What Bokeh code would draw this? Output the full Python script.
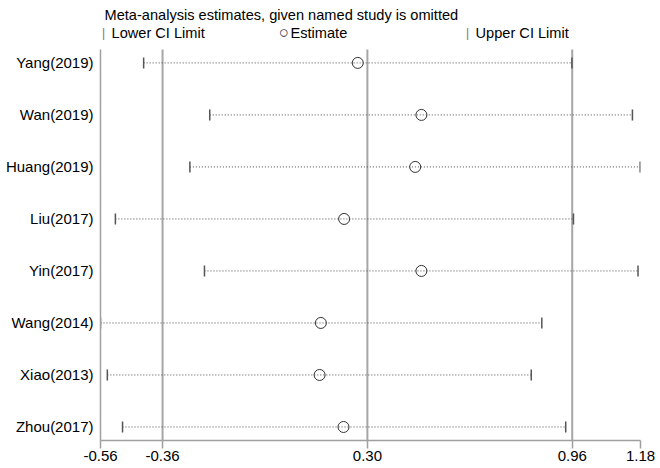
from math import pi
from bokeh.plotting import figure
from bokeh.models import Range1d, FixedTicker, ColumnDataSource, NumeralTickFormatter
from bokeh.core.properties import value
from bokeh.embed import file_html
from bokeh.resources import INLINE

studies = ["Yang(2019)", "Wan(2019)", "Huang(2019)", "Liu(2017)",
           "Yin(2017)", "Wang(2014)", "Xiao(2013)", "Zhou(2017)"]
estimate = [0.269, 0.474, 0.454, 0.225, 0.474, 0.150, 0.146, 0.223]
lower = [-0.421, -0.208, -0.272, -0.512, -0.225, -0.560, -0.538, -0.489]
upper = [0.959, 1.154, 1.179, 0.964, 1.172, 0.862, 0.828, 0.939]
pooled = [-0.36, 0.30, 0.96]          # pooled lower CI, estimate, upper CI
axis_ticks = [-0.56, -0.36, 0.30, 0.96, 1.18]
title_text = "Meta-analysis estimates, given named study is omitted"
legend_texts = ["Lower CI Limit", "Estimate", "Upper CI Limit"]

FONT = "Liberation Sans"
FS = "15px"
FS_HEAD = "14.6px"

n = len(studies)
ypos = list(range(n, 0, -1))
y_lo, y_hi = 0.74, n + 0.26          # extent of the plotting area proper
y_top = 9.2                           # extra room above for title / legend rows
src = ColumnDataSource(dict(y=ypos, est=estimate, lo=lower, hi=upper))

p = figure(width=660, height=468, output_backend="svg", toolbar_location=None,
           x_range=Range1d(axis_ticks[0], axis_ticks[-1]),
           y_range=Range1d(y_lo, y_top),
           min_border_left=100, min_border_right=20,
           min_border_top=0, min_border_bottom=28)
p.outline_line_color = None
p.xgrid.visible = False
p.ygrid.visible = False
p.background_fill_color = "white"
p.border_fill_color = "white"

# x axis
xa = p.xaxis[0]
xa.ticker = FixedTicker(ticks=axis_ticks)
xa.formatter = NumeralTickFormatter(format="0.00")
xa.axis_line_color = "#a0a0a0"
xa.axis_line_width = 1.5
xa.major_tick_line_color = "#a0a0a0"
xa.major_tick_line_width = 1.5
xa.major_tick_out = 8
xa.major_tick_in = 0
xa.minor_tick_line_color = None
xa.major_label_standoff = 2
xa.major_label_text_font = FONT
xa.major_label_text_font_size = FS
xa.major_label_text_color = "black"

# y axis
ya = p.yaxis[0]
ya.ticker = FixedTicker(ticks=ypos)
ya.major_label_overrides = {y: s for y, s in zip(ypos, studies)}
ya.bounds = (y_lo, y_hi)
ya.axis_line_color = "#a0a0a0"
ya.axis_line_width = 1.5
ya.major_tick_line_color = None
ya.minor_tick_line_color = None
ya.major_tick_out = 0
ya.major_tick_in = 0
ya.major_label_standoff = 7
ya.major_label_text_font = FONT
ya.major_label_text_font_size = FS
ya.major_label_text_color = "black"

# pooled reference lines
p.segment(x0=pooled, y0=[y_lo] * 3, x1=pooled, y1=[y_hi] * 3,
          line_color="#a6a6a6", line_width=2)

# CI dotted lines
p.segment(x0="lo", y0="y", x1="hi", y1="y", source=src,
          line_color="#4d4d4d", line_width=1, line_dash="1 2")
# CI end ticks
p.scatter(x="lo", y="y", source=src, marker="dash", angle=pi / 2, size=11,
          line_color="#555555", line_width=1.5)
p.scatter(x="hi", y="y", source=src, marker="dash", angle=pi / 2, size=11,
          line_color="#555555", line_width=1.5)
# estimates
p.scatter(x="est", y="y", source=src, marker="circle", size=11,
          fill_color=None, line_color="#333333", line_width=1)

# title and legend rows
def txt(x, y, text, size=FS_HEAD, color="black", align="left"):
    p.text(x=[x], y=[y], text=[text], text_font=value(FONT), text_font_size=size,
           text_color=color, text_baseline="middle", text_align=align)

row_title = 8.93
row_legend = 8.58
txt(-0.547, row_title, title_text)
txt(-0.550, row_legend, "|", size="12px", color="#777777", align="center")
txt(-0.5245, row_legend, legend_texts[0])
txt(0.031, row_legend, "\u25cb", size="17px", color="#333333", align="center")
txt(0.0523, row_legend, legend_texts[1])
txt(0.6227, row_legend, "|", size="12px", color="#777777", align="center")
txt(0.6485, row_legend, legend_texts[2])

open("out.html", "w").write(file_html(p, INLINE))
